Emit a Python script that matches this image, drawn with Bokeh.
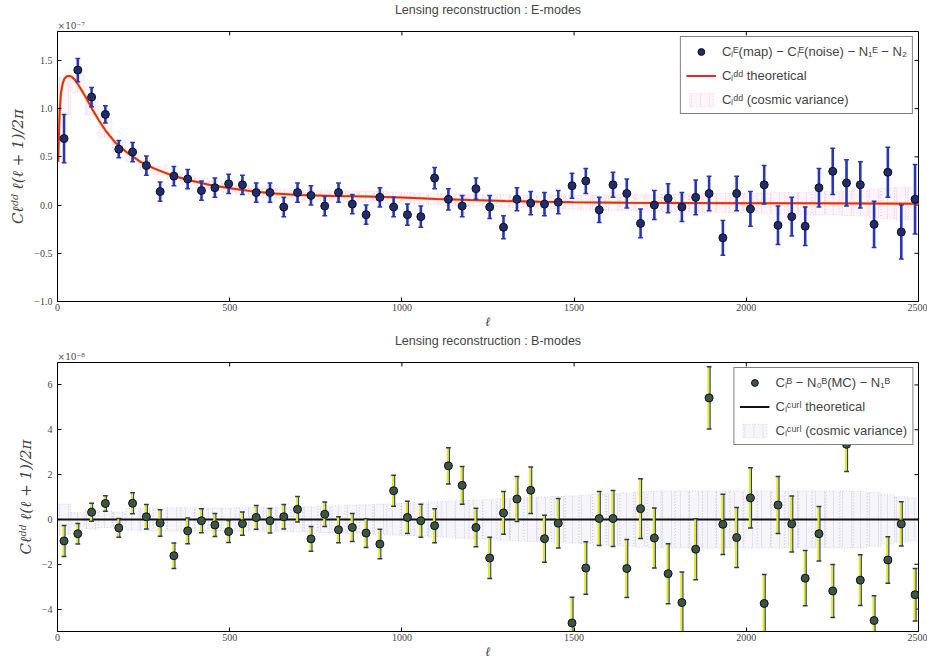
from bokeh.plotting import figure
from bokeh.layouts import column
from bokeh.models import (ColumnDataSource, Legend, LegendItem, FixedTicker, Range1d,
                          LinearAxis)
from bokeh.embed import file_html
from bokeh.resources import INLINE

# ---------------- data ----------------
ell = [19, 59, 99, 139, 178, 218, 258, 298, 338, 378,
       418, 457, 497, 537, 577, 617, 657, 697, 736, 776,
       816, 856, 896, 936, 976, 1016, 1055, 1095, 1135, 1175,
       1215, 1255, 1295, 1334, 1374, 1414, 1454, 1494, 1534, 1573,
       1613, 1653, 1693, 1733, 1773, 1813, 1853, 1892, 1932, 1972,
       2012, 2052, 2092, 2132, 2171, 2211, 2251, 2291, 2331, 2371,
       2411, 2450, 2490]

# E-modes (units of 1e-7)
e_val = [0.69, 1.40, 1.12, 0.94, 0.58, 0.55, 0.41, 0.14, 0.30, 0.27,
         0.15, 0.18, 0.22, 0.21, 0.13, 0.13, -0.02, 0.13, 0.10, -0.01,
         0.13, 0.01, -0.10, 0.08, -0.02, -0.10, -0.12, 0.28, 0.06, -0.01,
         0.17, -0.02, -0.23, 0.06, 0.02, 0.01, 0.03, 0.20, 0.25, -0.05,
         0.21, 0.12, -0.19, 0.00, 0.07, -0.02, 0.08, 0.12, -0.34, 0.12,
         -0.04, 0.21, -0.21, -0.12, -0.22, 0.18, 0.35, 0.23, 0.21, -0.20,
         0.34, -0.28, 0.06]
e_err = [0.25, 0.12, 0.10, 0.09, 0.09, 0.10, 0.10, 0.10, 0.10, 0.10,
         0.10, 0.10, 0.10, 0.10, 0.10, 0.10, 0.10, 0.10, 0.10, 0.10,
         0.10, 0.10, 0.10, 0.10, 0.10, 0.11, 0.11, 0.11, 0.11, 0.11,
         0.11, 0.12, 0.12, 0.12, 0.12, 0.12, 0.12, 0.13, 0.13, 0.13,
         0.13, 0.15, 0.15, 0.15, 0.15, 0.15, 0.18, 0.18, 0.18, 0.18,
         0.18, 0.20, 0.20, 0.20, 0.20, 0.20, 0.24, 0.24, 0.24, 0.24,
         0.26, 0.28, 0.36]
e_cv_center = [1.13, 1.26, 1.01, 0.79, 0.61, 0.50, 0.41, 0.36, 0.30, 0.26,
               0.23, 0.205, 0.18, 0.155, 0.14, 0.125, 0.115, 0.105, 0.10, 0.097,
               0.094, 0.092, 0.09, 0.085, 0.08, 0.074, 0.068, 0.062, 0.058, 0.054,
               0.05, 0.046, 0.042, 0.039, 0.036, 0.033, 0.030, 0.028, 0.026, 0.025,
               0.024, 0.024, 0.023, 0.023, 0.022, 0.022, 0.021, 0.021, 0.020, 0.020,
               0.020, 0.020, 0.019, 0.019, 0.018, 0.018, 0.018, 0.017, 0.017, 0.016,
               0.016, 0.015, 0.015]
e_cv_sigma = [0.19, 0.09, 0.075, 0.09, 0.06, 0.05, 0.05, 0.045, 0.045, 0.045,
              0.045, 0.045, 0.045, 0.045, 0.045, 0.05, 0.05, 0.05, 0.05, 0.05,
              0.05, 0.055, 0.055, 0.055, 0.055, 0.055, 0.055, 0.055, 0.06, 0.06,
              0.06, 0.06, 0.065, 0.065, 0.065, 0.07, 0.07, 0.07, 0.075, 0.075,
              0.08, 0.08, 0.085, 0.085, 0.09, 0.09, 0.095, 0.095, 0.10, 0.10,
              0.10, 0.105, 0.11, 0.11, 0.115, 0.12, 0.12, 0.125, 0.13, 0.15,
              0.16, 0.17, 0.17]
th_e_ell = [2, 6, 10, 15, 20, 27, 34, 42, 50, 60, 70, 85, 100, 120, 140, 170, 200,
            240, 280, 330, 380, 440, 500, 560, 630, 700, 800, 900, 1000, 1100,
            1200, 1300, 1400, 1500, 1650, 1800, 2000, 2200, 2500]
th_e = [0.45, 0.95, 1.16, 1.26, 1.31, 1.335, 1.34, 1.33, 1.30, 1.25, 1.19, 1.10,
        1.00, 0.88, 0.77, 0.64, 0.55, 0.45, 0.38, 0.31, 0.26, 0.21, 0.175, 0.145,
        0.12, 0.105, 0.095, 0.09, 0.078, 0.064, 0.052, 0.042, 0.034, 0.028, 0.024,
        0.022, 0.02, 0.018, 0.015]

# B-modes (units of 1e-8)
b_val = [-0.96, -0.64, 0.32, 0.71, -0.38, 0.72, 0.12, -0.16, -1.62, -0.51,
         -0.06, -0.25, -0.54, -0.19, 0.09, -0.06, 0.12, 0.45, -0.87, 0.23,
         -0.46, -0.36, -0.61, -1.10, 1.28, 0.09, -0.06, -0.28, 2.39, 1.52,
         -0.36, -1.72, 0.29, 0.91, 1.30, -0.86, -0.17, -4.62, -2.17, 0.04,
         0.04, -2.19, 0.48, -0.83, -2.42, -3.71, -1.33, 5.42, -0.22, -0.81,
         0.96, -3.75, 0.64, -0.20, -2.62, -0.64, -3.19, 3.35, -2.71, -4.51,
         -1.81, -0.20, -3.36]
b_err = [0.69, 0.46, 0.40, 0.35, 0.42, 0.47, 0.55, 0.59, 0.57, 0.57,
         0.54, 0.51, 0.49, 0.52, 0.53, 0.55, 0.55, 0.57, 0.55, 0.55,
         0.58, 0.62, 0.64, 0.66, 0.69, 0.72, 0.74, 0.76, 0.81, 0.84,
         0.86, 0.92, 0.95, 1.00, 1.04, 1.05, 1.10, 1.15, 1.17, 1.20,
         1.25, 1.29, 1.33, 1.34, 1.34, 1.36, 1.36, 1.39, 1.34, 1.34,
         1.34, 1.29, 1.27, 1.25, 1.23, 1.22, 1.18, 1.21, 1.13, 1.10,
         1.04, 0.99, 1.17]
b_cv_center = [0.0] * 63
b_cv_sigma = [0.68, 0.30, 0.40, 0.36, 0.33, 0.48, 0.50, 0.50, 0.52, 0.52,
              0.50, 0.50, 0.50, 0.52, 0.52, 0.53, 0.53, 0.55, 0.56, 0.58,
              0.60, 0.62, 0.65, 0.68, 0.70, 0.72, 0.74, 0.78, 0.80, 0.84,
              0.86, 0.88, 0.92, 0.95, 0.98, 1.00, 1.02, 1.05, 1.08, 1.12,
              1.15, 1.18, 1.22, 1.25, 1.27, 1.27, 1.27, 1.27, 1.27, 1.27,
              1.27, 1.27, 1.27, 1.27, 1.27, 1.27, 1.27, 1.27, 1.25, 1.20,
              1.10, 1.00, 0.95]
th_b_ell = [0, 2500]
th_b = [0.0, 0.0]

x_ticks = [0, 500, 1000, 1500, 2000, 2500]
e_yticks = [-1.0, -0.5, 0.0, 0.5, 1.0, 1.5]
e_ylabels = ["\u22121.0", "\u22120.5", "0.0", "0.5", "1.0", "1.5"]
b_yticks = [-4, -2, 0, 2, 4, 6]
b_ylabels = ["\u22124", "\u22122", "0", "2", "4", "6"]

X_RANGE = (0, 2500)
EXP_LABEL_ELL = 40      # where the "x10^n" multiplier sits along the top edge
FW = 861
SERIF = "DejaVu Serif"
SANS = "Liberation Sans"
TICK_PX = 4


def make_panel(title, exp_text, yr, yticks, ylabels, val, err, cvc, cvs,
               th_x, th_y, fh, border_top, border_bottom, labels, marker_fill, bar_color,
               cv_color, theory_color, yellow_under, two_tone):
    p = figure(frame_width=FW, frame_height=fh, x_range=Range1d(*X_RANGE),
               y_range=Range1d(*yr), output_backend="svg", toolbar_location=None,
               min_border_left=57, min_border_right=9, min_border_top=border_top,
               min_border_bottom=border_bottom, outline_line_color="black",
               background_fill_color="white", border_fill_color="white")
    p.xgrid.visible = False
    p.ygrid.visible = False

    p.title.text = title
    p.title.align = "center"
    p.title.text_font = SANS
    p.title.text_font_size = "12.5px"
    p.title.text_font_style = "normal"
    p.title.standoff = 1

    for ax in (p.xaxis[0], p.yaxis[0]):
        ax.major_tick_in = TICK_PX
        ax.major_tick_out = 0
        ax.minor_tick_in = 0
        ax.minor_tick_out = 0
        ax.major_label_text_font = "Liberation Serif"
        ax.major_label_text_font_size = "10px"
        ax.axis_line_color = "black"
        ax.axis_label_text_font = SERIF
        ax.axis_label_text_font_style = "italic"
    p.xaxis.ticker = FixedTicker(ticks=x_ticks)
    p.yaxis.ticker = FixedTicker(ticks=yticks)
    p.yaxis.major_label_overrides = {t: l for t, l in zip(yticks, ylabels)}
    p.xaxis.axis_label = "\u2113"
    p.xaxis.axis_label_text_font_size = "13px"
    p.xaxis.axis_label_standoff = 0
    p.xaxis.major_label_standoff = 2
    p.yaxis.major_label_standoff = 5
    p.yaxis.axis_label = "C\u2113\u1d48\u1d48 \u2113(\u2113 + 1)/2\u03c0"
    p.yaxis.axis_label_text_font_size = "15px"
    p.yaxis.axis_label_standoff = 4

    # multiplier text above the top-left corner (as a label of a tick-less top axis)
    top_ax = LinearAxis(ticker=FixedTicker(ticks=[EXP_LABEL_ELL]),
                        major_label_overrides={EXP_LABEL_ELL: exp_text},
                        major_tick_in=0, major_tick_out=0, minor_tick_in=0, minor_tick_out=0,
                        axis_line_color=None, major_label_standoff=1,
                        major_label_text_font=SERIF, major_label_text_font_size="9px")
    p.add_layout(top_ax, "above")

    # inward ticks on the right and top sides of the box
    dx = TICK_PX * (X_RANGE[1] - X_RANGE[0]) / FW
    dy = TICK_PX * (yr[1] - yr[0]) / fh
    p.segment(x0=[X_RANGE[1]] * len(yticks), y0=yticks,
              x1=[X_RANGE[1] - dx] * len(yticks), y1=yticks, line_color="black", line_width=1)
    p.segment(x0=x_ticks, y0=[yr[1]] * len(x_ticks), x1=x_ticks,
              y1=[yr[1] - dy] * len(x_ticks), line_color="black", line_width=1)

    # cosmic variance boxes
    half = 19
    cv_src = ColumnDataSource(dict(
        left=[x - half for x in ell], right=[x + half for x in ell],
        bottom=[c - s for c, s in zip(cvc, cvs)], top=[c + s for c, s in zip(cvc, cvs)]))
    cv = p.quad(left="left", right="right", bottom="bottom", top="top", source=cv_src,
                fill_color=cv_color, fill_alpha=0.10, line_color=cv_color, line_alpha=0.6,
                line_width=0.8, line_dash="1 2", hatch_pattern="vertical_line",
                hatch_color=cv_color, hatch_alpha=0.35, hatch_scale=9, hatch_weight=0.7)

    # theory
    if yellow_under:
        p.line(th_x, th_y, line_color="#f2e21c", line_width=2.8, line_alpha=0.8)
    th = p.line(th_x, th_y, line_color=theory_color, line_width=2.0)

    # error bars
    cap = 7
    lo = [v - e for v, e in zip(val, err)]
    hi = [v + e for v, e in zip(val, err)]
    if two_tone:
        shift = 3
        p.segment(x0=[x - 1 for x in ell], y0=lo, x1=[x - 1 for x in ell], y1=hi,
                  line_color="#e8e81a", line_width=2.6)
        p.segment(x0=[x + shift for x in ell], y0=lo, x1=[x + shift for x in ell], y1=hi,
                  line_color=bar_color, line_width=1.1)
        cap_col = "#2a3a5a"
    else:
        p.segment(x0=ell, y0=lo, x1=ell, y1=hi, line_color=bar_color, line_width=2.6)
        cap_col = bar_color
    p.segment(x0=[x - cap for x in ell], y0=lo, x1=[x + cap for x in ell], y1=lo,
              line_color=cap_col, line_width=1.5)
    p.segment(x0=[x - cap for x in ell], y0=hi, x1=[x + cap for x in ell], y1=hi,
              line_color=cap_col, line_width=1.5)

    pts = p.scatter(ell, val, size=8, fill_color=marker_fill, line_color="#111111",
                    line_width=1)

    legend = Legend(items=[LegendItem(label=labels[0], renderers=[pts]),
                           LegendItem(label=labels[1], renderers=[th]),
                           LegendItem(label=labels[2], renderers=[cv])],
                    location="top_right", margin=5, padding=5, spacing=6,
                    label_height=17, glyph_height=17, glyph_width=30, label_standoff=6,
                    label_text_font=SANS, label_text_font_size="13px",
                    border_line_color="black", border_line_width=1,
                    background_fill_color="white", background_fill_alpha=1)
    p.add_layout(legend)
    return p


p1 = make_panel("Lensing reconstruction : E-modes", "\u00d710\u207b\u2077", (-1.0, 1.8),
                e_yticks, e_ylabels, e_val, e_err, e_cv_center, e_cv_sigma, th_e_ell, th_e,
                270, 29, 30,
                ["C\u2097\u1d31(map) \u2212 C\u2097\u1d31(noise) \u2212 N\u2081\u1d31 \u2212 N\u2082",
                 "C\u2097\u1d48\u1d48 theoretical",
                 "C\u2097\u1d48\u1d48 (cosmic variance)"],
                "#1f2d70", "#2636b4", "#e79ad2", "#e8262e", True, False)

p2 = make_panel("Lensing reconstruction : B-modes", "\u00d710\u207b\u2078", (-5, 7),
                b_yticks, b_ylabels, b_val, b_err, b_cv_center, b_cv_sigma, th_b_ell, th_b,
                269, 29, 30,
                ["C\u2097\u1d2e \u2212 N\u2080\u1d2e(MC) \u2212 N\u2081\u1d2e",
                 "C\u2097\u1d9c\u1d58\u02b3\u02e1 theoretical",
                 "C\u2097\u1d9c\u1d58\u02b3\u02e1 (cosmic variance)"],
                "#3a5646", "#23408a", "#a9a2cf", "#111111", False, True)

layout = column(p1, p2, spacing=0)
open("out.html", "w").write(file_html(layout, INLINE))
